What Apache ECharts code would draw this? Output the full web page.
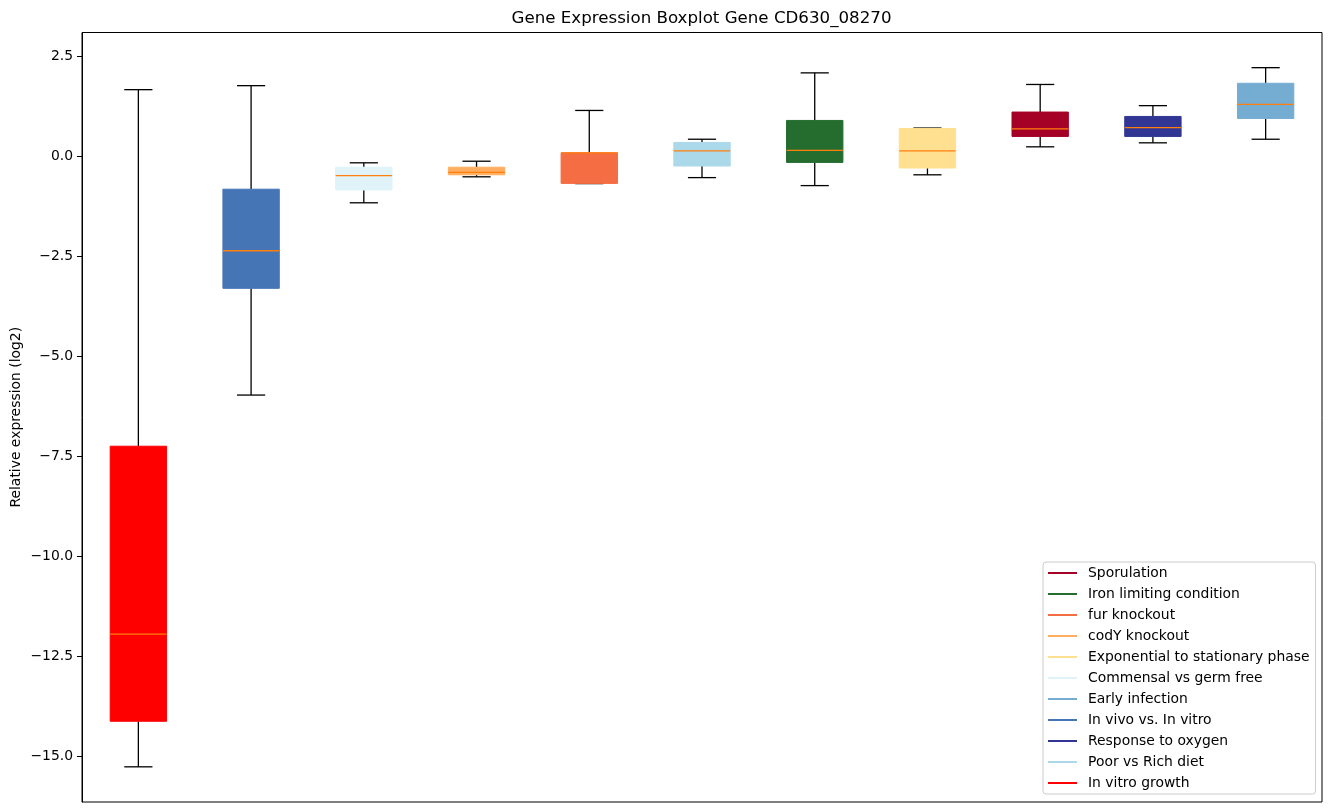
<!DOCTYPE html>
<html>
<head>
<meta charset="utf-8">
<script src="https://cdn.jsdelivr.net/npm/echarts@6/dist/echarts.min.js"></script>
<style>html,body{margin:0;padding:0;background:#fff}#c{width:1331px;height:812px}</style>
</head>
<body>
<div id="c"></div>
<script>
// Categories, left to right
const conditions = ['In vitro growth','In vivo vs. In vitro','Commensal vs germ free','codY knockout','fur knockout','Poor vs Rich diet','Iron limiting condition','Exponential to stationary phase','Sporulation','Response to oxygen','Early infection'];
// Box statistics per category: [lower whisker, Q1, median, Q3, upper whisker]
const whiskerLow = [-15.27, -5.97, -1.16, -0.51, -0.68, -0.53, -0.73, -0.46, 0.24, 0.34, 0.43];
const q1         = [-14.13, -3.30, -0.84, -0.46, -0.675, -0.24, -0.15, -0.29, 0.50, 0.50, 0.95];
const median     = [-11.95, -2.36, -0.48, -0.40, 0.09, 0.14, 0.15, 0.14, 0.69, 0.72, 1.30];
const q3         = [-7.25, -0.82, -0.27, -0.27, 0.09, 0.35, 0.90, 0.70, 1.11, 1.00, 1.83];
const whiskerHigh= [1.67, 1.77, -0.16, -0.12, 1.15, 0.43, 2.09, 0.71, 1.80, 1.27, 2.22];
const colors = ['#ff0000','#4575b4','#e0f3f8','#fdae61','#f46d43','#abd9e9','#256d2f','#fee090','#a50026','#313695','#74add1'];
// Legend order
const legendOrder = ['Sporulation','Iron limiting condition','fur knockout','codY knockout','Exponential to stationary phase','Commensal vs germ free','Early infection','In vivo vs. In vitro','Response to oxygen','Poor vs Rich diet','In vitro growth'];
const yTicks = [-15, -12.5, -10, -7.5, -5, -2.5, 0, 2.5];

const boxData = conditions.map((c, i) => [i, whiskerLow[i], q1[i], median[i], q3[i], whiskerHigh[i]]);

function renderItem(params, api) {
  const idx = api.value(0);
  const bw = api.size([1, 0])[0] * 0.5;
  const cw = bw * 0.5;
  const pLo = api.coord([idx, api.value(1)]);
  const pQ1 = api.coord([idx, api.value(2)]);
  const pMed = api.coord([idx, api.value(3)]);
  const pQ3 = api.coord([idx, api.value(4)]);
  const pHi = api.coord([idx, api.value(5)]);
  const x = pMed[0];
  const col = colors[idx];
  const black = {stroke: '#000', lineWidth: 1.3, fill: null};
  return {
    type: 'group',
    children: [
      {type: 'line', shape: {x1: x, y1: pQ3[1], x2: x, y2: pHi[1]}, style: black},
      {type: 'line', shape: {x1: x, y1: pQ1[1], x2: x, y2: pLo[1]}, style: black},
      {type: 'line', shape: {x1: x - cw/2, y1: pHi[1], x2: x + cw/2, y2: pHi[1]}, style: black},
      {type: 'line', shape: {x1: x - cw/2, y1: pLo[1], x2: x + cw/2, y2: pLo[1]}, style: black},
      {type: 'rect', shape: {x: x - bw/2, y: pQ3[1], width: bw, height: Math.max(pQ1[1] - pQ3[1], 0.5)},
        style: {fill: col, stroke: col, lineWidth: 1}},
      {type: 'line', shape: {x1: x - bw/2, y1: pMed[1], x2: x + bw/2, y2: pMed[1]}, style: {stroke: '#ff7f0e', lineWidth: 1.3}}
    ]
  };
}

const legendSeries = legendOrder.map(name => ({
  name: name,
  type: 'line',
  data: [],
  symbol: 'none',
  color: colors[conditions.indexOf(name)],
  lineStyle: {width: 2, color: colors[conditions.indexOf(name)]}
}));

const chart = echarts.init(document.getElementById('c'), null, {renderer: 'canvas'});
chart.setOption({
  animation: false,
  backgroundColor: '#fff',
  title: {
    text: 'Gene Expression Boxplot Gene CD630_08270',
    left: 696.5, top: 5, textAlign: 'center',
    textStyle: {fontFamily: 'DejaVu Sans', fontSize: 16.67, fontWeight: 'normal', color: '#000'}
  },
  legend: {
    data: legendOrder,
    orient: 'vertical',
    left: 1043, top: 562,
    padding: [3, 6, 3, 5],
    icon: 'path://M0,0 L29,0 L29,2 L0,2 Z',
    itemWidth: 29, itemHeight: 2, itemGap: 5,
    borderColor: '#cccccc', borderWidth: 1, borderRadius: 3,
    backgroundColor: 'rgba(255,255,255,0.8)',
    textStyle: {fontFamily: 'DejaVu Sans', fontSize: 13.9, lineHeight: 16, color: '#000', padding: [0, 0, 0, 6]},
    selectedMode: false
  },
  grid: {left: 82, right: 9, top: 32.5, bottom: 10, outerBoundsMode: 'none', containLabel: false,
    show: true, borderColor: '#000', borderWidth: 1, backgroundColor: 'transparent'},
  xAxis: {
    type: 'category', data: conditions,
    axisLine: {show: false}, axisTick: {show: false}, axisLabel: {show: false}, splitLine: {show: false}
  },
  yAxis: {
    type: 'value', min: -16.15, max: 3.1,
    name: 'Relative expression (log2)', nameLocation: 'middle', nameGap: 59, nameRotate: 90,
    nameMoveOverlap: false,
    nameTextStyle: {fontFamily: 'DejaVu Sans', fontSize: 13.9, color: '#000'},
    axisLine: {show: true, lineStyle: {color: '#000'}},
    axisTick: {show: true, length: 5, lineStyle: {color: '#000'}, customValues: yTicks},
    axisLabel: {fontFamily: 'DejaVu Sans', fontSize: 13.9, color: '#000', margin: 9, customValues: yTicks,
      formatter: v => (v < 0 ? '\u2212' : '') + Math.abs(v).toFixed(1)},
    splitLine: {show: false}
  },
  series: [{
    type: 'custom', name: 'boxes', renderItem: renderItem, data: boxData,
    encode: {x: 0, y: [1, 2, 3, 4, 5]}
  }].concat(legendSeries)
});
</script>
</body>
</html>
